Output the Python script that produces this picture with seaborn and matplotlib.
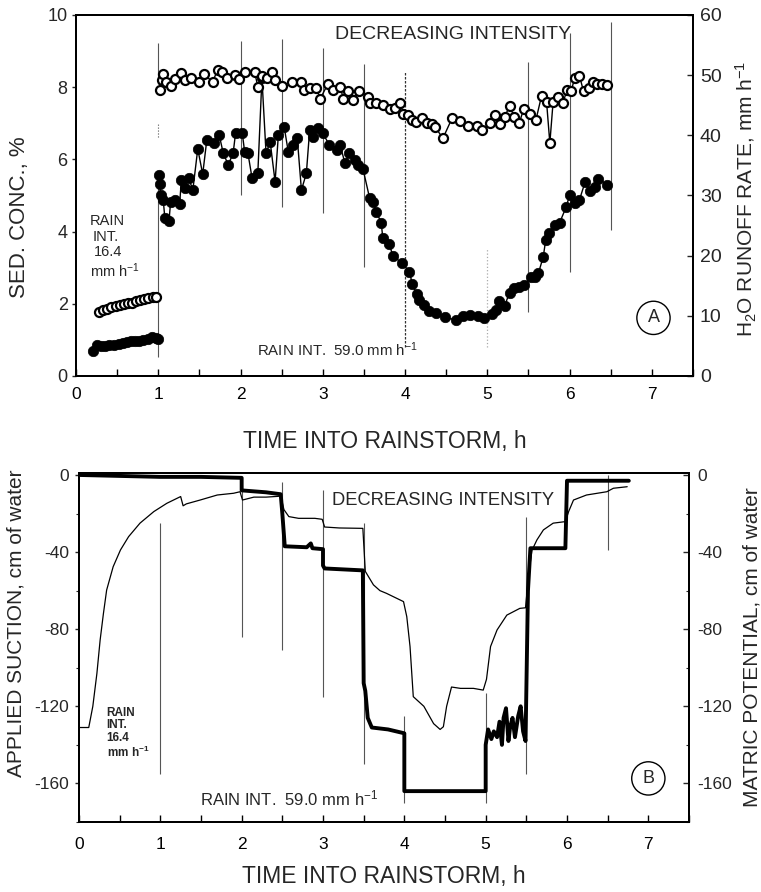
import numpy as np
import pandas as pd
import matplotlib
matplotlib.use("Agg")
import matplotlib.pyplot as plt
from matplotlib.ticker import MultipleLocator
import seaborn as sns

sns.set_style("ticks")
plt.rcParams['font.family'] = ['Liberation Sans', 'DejaVu Sans']
plt.rcParams['mathtext.fontset'] = 'custom'
plt.rcParams['mathtext.rm'] = 'Liberation Sans'
plt.rcParams['mathtext.it'] = 'Liberation Sans:italic'
plt.rcParams['mathtext.bf'] = 'Liberation Sans:bold'
plt.rcParams['mathtext.default'] = 'regular'
plt.rcParams['axes.unicode_minus'] = False

# ---------------- Panel A data ----------------
# sediment concentration (%), low-intensity period
sed_early_t = [0.21, 0.26, 0.30, 0.35, 0.40, 0.46, 0.52, 0.57, 0.62, 0.67, 0.72, 0.77, 0.82, 0.87, 0.92, 0.97, 1.00]
sed_early = [0.70, 0.85, 0.82, 0.84, 0.85, 0.86, 0.88, 0.92, 0.95, 0.96, 0.97, 0.98, 1.00, 1.02, 1.08, 1.05, 1.02]
# sediment concentration (%), high-intensity period
sed_t = [1.01, 1.02, 1.03, 1.06, 1.08, 1.13, 1.15, 1.20, 1.26, 1.28, 1.32, 1.37, 1.42, 1.48, 1.54, 1.59,
         1.68, 1.74, 1.79, 1.85, 1.91, 1.94, 2.02, 2.05, 2.09, 2.14, 2.21, 2.26, 2.31, 2.36, 2.42, 2.46,
         2.53, 2.58, 2.64, 2.69, 2.74, 2.80, 2.84, 2.88, 2.94, 3.00, 3.08, 3.17, 3.21, 3.27, 3.32, 3.39,
         3.43, 3.49, 3.57, 3.61, 3.65, 3.71, 3.73, 3.81, 3.85, 3.96, 4.05, 4.09, 4.14, 4.17, 4.23, 4.29,
         4.38, 4.49, 4.62, 4.70, 4.79, 4.89, 4.96, 5.06, 5.10, 5.14, 5.21, 5.27, 5.32, 5.39, 5.45, 5.53,
         5.58, 5.62, 5.68, 5.71, 5.75, 5.82, 5.88, 5.96, 6.00, 6.06, 6.12, 6.19, 6.25, 6.31, 6.35, 6.46]
sed = [5.57, 5.31, 5.01, 4.88, 4.37, 4.28, 4.83, 4.88, 4.76, 5.43, 5.20, 5.48, 5.15, 6.29, 5.59, 6.54,
       6.46, 6.68, 6.17, 5.85, 6.17, 6.74, 6.74, 6.21, 6.17, 5.48, 5.61, 8.25, 6.17, 6.49, 5.38, 6.68,
       6.91, 6.21, 6.40, 6.58, 5.15, 5.61, 6.81, 6.63, 6.86, 6.72, 6.40, 6.26, 6.40, 5.89, 6.17, 5.98,
       5.84, 5.72, 4.92, 4.83, 4.55, 4.25, 3.81, 3.66, 3.32, 3.14, 2.89, 2.55, 2.27, 2.11, 1.97, 1.81,
       1.74, 1.62, 1.55, 1.66, 1.69, 1.66, 1.60, 1.71, 1.83, 2.09, 1.94, 2.31, 2.43, 2.47, 2.52, 2.75,
       2.75, 2.84, 3.30, 3.77, 3.95, 4.18, 4.25, 4.69, 5.01, 4.78, 4.88, 5.38, 5.13, 5.24, 5.47, 5.29]
# runoff rate (mm/h), low-intensity period
run_early_t = [0.28, 0.33, 0.38, 0.43, 0.48, 0.53, 0.58, 0.63, 0.68, 0.73, 0.78, 0.83, 0.88, 0.93, 0.97]
run_early = [10.7, 11.0, 11.2, 11.4, 11.6, 11.8, 11.9, 12.1, 12.2, 12.4, 12.6, 12.8, 12.9, 13.1, 13.1]
# runoff rate (mm/h), high-intensity period
run_t = [1.02, 1.04, 1.06, 1.09, 1.16, 1.20, 1.28, 1.32, 1.40, 1.49, 1.55, 1.66, 1.72, 1.77, 1.83, 1.93,
         1.98, 2.06, 2.17, 2.21, 2.26, 2.32, 2.38, 2.42, 2.51, 2.62, 2.74, 2.77, 2.84, 2.92, 2.97, 3.06,
         3.13, 3.21, 3.25, 3.31, 3.37, 3.44, 3.55, 3.57, 3.65, 3.73, 3.82, 3.88, 3.94, 3.98, 4.04, 4.08,
         4.13, 4.20, 4.27, 4.33, 4.37, 4.46, 4.57, 4.67, 4.77, 4.87, 4.94, 5.03, 5.09, 5.15, 5.21, 5.27,
         5.33, 5.39, 5.44, 5.52, 5.59, 5.66, 5.72, 5.76, 5.80, 5.86, 5.92, 5.97, 6.02, 6.06, 6.12, 6.17,
         6.24, 6.28, 6.33, 6.39, 6.45]
run = [47.6, 49.2, 50.2, 48.9, 48.2, 49.3, 50.4, 49.2, 49.5, 48.9, 50.2, 48.9, 50.8, 50.6, 49.5, 50.0,
       49.3, 50.6, 50.6, 48.1, 49.9, 49.5, 50.6, 49.2, 48.2, 48.9, 48.9, 47.5, 47.8, 47.8, 46.1, 48.5,
       47.5, 48.1, 46.1, 47.4, 45.9, 47.4, 46.3, 45.4, 45.4, 45.1, 44.3, 44.6, 45.4, 43.6, 43.4, 42.5,
       42.2, 42.8, 42.1, 41.9, 41.3, 39.5, 42.8, 42.4, 41.6, 41.6, 40.9, 42.1, 43.4, 41.9, 43.1, 44.8,
       43.1, 42.1, 44.3, 43.6, 42.5, 46.6, 45.6, 38.7, 45.6, 46.3, 45.4, 47.6, 47.3, 49.5, 49.9, 47.3,
       47.8, 48.9, 48.6, 48.5, 48.4]
# marker lines in panel A (left-axis units)
vl_a_x = [2.0, 2.5, 3.0, 3.5, 5.5, 6.0, 6.5]
vl_a_lo = [5.01, 4.68, 4.52, 3.02, 1.77, 2.88, 4.04]
vl_a_hi = [9.28, 9.33, 9.09, 8.64, 8.70, 9.50, 9.80]

# ---------------- Panel B data ----------------
suction_t = [0.0, 0.5, 1.0, 1.5, 2.0, 2.0, 2.3, 2.48, 2.50, 2.53, 2.80, 2.85, 2.87, 3.0, 3.0, 3.02,
             3.49, 3.50, 3.52, 3.55, 3.60, 3.80, 4.0, 4.0, 5.0, 5.0, 5.03, 5.07, 5.10, 5.14, 5.17, 5.20,
             5.22, 5.25, 5.28, 5.30, 5.33, 5.36, 5.40, 5.43, 5.46, 5.49, 5.52, 5.55, 5.98, 6.0, 6.76]
suction = [0.0, -0.5, -1.0, -1.0, -1.5, -8.0, -9.0, -10.0, -20.0, -37.0, -37.5, -35.5, -38.0, -38.5, -47.0, -48.5,
           -49.5, -108.0, -112.0, -126.0, -131.0, -132.0, -134.0, -164.0, -164.0, -140.0, -132.0, -137.0, -133.0, -136.0, -128.0, -140.0,
           -126.0, -121.0, -138.0, -131.0, -126.0, -136.0, -125.0, -120.0, -133.0, -138.0, -60.0, -38.0, -38.0, -3.0, -3.0]
mp_t = [0.0, 0.12, 0.17, 0.22, 0.26, 0.30, 0.34, 0.42, 0.51, 0.61, 0.75, 0.92, 1.08, 1.25, 1.28, 1.32,
        1.49, 1.70, 1.90, 1.98, 2.01, 2.15, 2.30, 2.48, 2.52, 2.58, 2.70, 2.90, 2.99, 3.02, 3.20, 3.49,
        3.52, 3.62, 3.70, 3.78, 3.99, 4.03, 4.07, 4.11, 4.24, 4.36, 4.44, 4.48, 4.52, 4.58, 4.69, 4.85,
        4.97, 5.01, 5.06, 5.14, 5.26, 5.42, 5.49, 5.53, 5.57, 5.63, 5.71, 5.83, 5.98, 6.02, 6.08, 6.24,
        6.49, 6.57, 6.74]
mp = [-131.0, -131.0, -120.0, -103.0, -85.6, -72.0, -59.7, -47.6, -38.9, -32.0, -25.0, -19.0, -14.7, -11.2, -16.0, -15.0,
      -13.0, -10.4, -9.5, -8.7, -13.0, -11.5, -11.5, -11.0, -18.0, -21.6, -22.5, -22.5, -23.0, -27.0, -27.5, -27.7,
      -50.0, -57.0, -60.0, -61.4, -65.7, -73.5, -89.0, -115.0, -120.0, -129.0, -132.0, -130.6, -120.0, -110.0, -110.7, -110.7,
      -111.6, -106.0, -89.0, -80.4, -72.7, -69.2, -68.9, -51.0, -39.0, -33.7, -28.5, -25.0, -24.2, -19.0, -13.0, -10.4,
      -8.7, -6.9, -6.1]
vl_b_x = [1.0, 2.0, 2.5, 3.0, 3.5, 5.5, 6.5]
vl_b_lo = [-155, -84, -91, -115, -150, -155, -39]
vl_b_hi = [-25, -5, -3.5, -8, -25, -21.6, 0]

xticks = [0, 1, 2, 3, 4, 5, 6, 7]

# ---------------- Figure ----------------
fig = plt.figure(figsize=(7.61, 8.92), dpi=100)
ax1 = fig.add_axes([0.0999, 0.5785, 0.8107, 0.4047])
ax1r = ax1.twinx()
ax2 = fig.add_axes([0.1038, 0.0785, 0.8016, 0.3912])
ax2r = ax2.twinx()

vcol = '#555555'
# ---- Panel A ----
ax1.vlines(vl_a_x, vl_a_lo, vl_a_hi, color=vcol, lw=0.8, zorder=1)
ax1.vlines([1.0, 1.0], [0.53, 8.1], [5.6, 9.22], color=vcol, lw=0.8, zorder=1)
ax1.vlines([1.0], [6.63], [7.0], color=vcol, lw=0.8, linestyles=':', zorder=1)
ax1.vlines([4.0], [0.8], [8.45], color='#333333', lw=0.9, linestyles=(0, (2, 1.2)), zorder=1)
ax1.vlines([5.0], [0.8], [3.55], color='#aaaaaa', lw=0.9, linestyles=':', zorder=1)

filled_kw = dict(color='black', lw=1.0, marker='o', markersize=7.5,
                 markerfacecolor='black', markeredgecolor='black', markeredgewidth=0.5)
open_kw = dict(color='black', lw=1.0, marker='o', markersize=6.5,
               markerfacecolor='white', markeredgecolor='black', markeredgewidth=1.6)

sns.lineplot(x=sed_early_t, y=sed_early, ax=ax1, estimator=None, sort=False, **filled_kw)
sns.lineplot(x=sed_t, y=sed, ax=ax1, estimator=None, sort=False, **filled_kw)
sns.lineplot(x=run_early_t, y=run_early, ax=ax1r, estimator=None, sort=False, **open_kw)
sns.lineplot(x=run_t, y=run, ax=ax1r, estimator=None, sort=False, **open_kw)

ax1.set_xlim(0, 7.5)
ax1.set_ylim(0, 10)
ax1r.set_ylim(0, 60)
ax1.set_xticks(xticks)
ax1.xaxis.set_minor_locator(MultipleLocator(0.5))
ax1.set_yticks([0, 2, 4, 6, 8, 10])
ax1r.set_yticks([0, 10, 20, 30, 40, 50, 60])

ax1.text(3.15, 9.45, 'DECREASING INTENSITY', fontsize=14, ha='left', va='center')
ax1.text(2.2, 0.72, 'RAIN INT.  59.0 mm h$^{-1}$', fontsize=10.8, ha='left', va='center')
ax1.text(0.17, 4.30, 'RAIN', fontsize=10.5, ha='left', va='center')
ax1.text(0.20, 3.85, 'INT.', fontsize=10.5, ha='left', va='center')
ax1.text(0.22, 3.43, '16.4', fontsize=10.5, ha='left', va='center')
ax1.text(0.17, 2.92, 'mm h$^{-1}$', fontsize=10.5, ha='left', va='center')
ax1.text(7.02, 1.61, 'A', fontsize=13, ha='center', va='center',
         bbox=dict(boxstyle='circle,pad=0.45', fc='white', ec='black', lw=1.0))

ax1.set_xlabel('TIME INTO RAINSTORM, h', fontsize=16.5)
ax1.set_ylabel('SED. CONC., %', fontsize=16)
ax1r.set_ylabel('H$_2$O RUNOFF RATE, mm h$^{-1}$', fontsize=15)
ax1.xaxis.set_label_coords(0.5, -0.15)
ax1.yaxis.set_label_coords(-0.075, 0.44)
ax1r.yaxis.set_label_coords(1.066, 0.49)

# ---- Panel B ----
ax2.vlines(vl_b_x, vl_b_lo, vl_b_hi, color=vcol, lw=0.8, zorder=1)
ax2.vlines([4.0, 5.0], [-170, -170], [-125, -113], color=vcol, lw=0.8, zorder=1)

sns.lineplot(x=suction_t, y=suction, ax=ax2, estimator=None, sort=False, color='black', lw=2.8)
sns.lineplot(x=mp_t, y=mp, ax=ax2r, estimator=None, sort=False, color='black', lw=0.9)

ax2.set_xlim(0, 7.5)
ax2.set_ylim(-180, 1)
ax2r.set_ylim(-180, 1)
ax2.set_xticks(xticks)
ax2.xaxis.set_minor_locator(MultipleLocator(0.5))
ax2.set_yticks([0, -40, -80, -120, -160])
ax2.yaxis.set_minor_locator(MultipleLocator(20))
ax2r.set_yticks([0, -40, -80, -120, -160])
ax2r.yaxis.set_minor_locator(MultipleLocator(20))

ax2.text(3.11, -13, 'DECREASING INTENSITY', fontsize=13.2, ha='left', va='center')
ax2.text(1.49, -168, 'RAIN INT.  59.0 mm h$^{-1}$', fontsize=12, ha='left', va='center')
ax2.text(0.34, -134, 'RAIN\nINT.\n16.4\nmm h$^{-1}$', fontsize=8.5, fontweight='bold',
         ha='left', va='center', linespacing=1.05)
ax2.text(7.0, -157.4, 'B', fontsize=13, ha='center', va='center',
         bbox=dict(boxstyle='circle,pad=0.45', fc='white', ec='black', lw=1.0))

ax2.set_xlabel('TIME INTO RAINSTORM, h', fontsize=16.5)
ax2.set_ylabel('APPLIED SUCTION, cm of water', fontsize=15)
ax2r.set_ylabel('MATRIC POTENTIAL, cm of water', fontsize=15)
ax2.xaxis.set_label_coords(0.5, -0.123)
ax2.yaxis.set_label_coords(-0.087, 0.57)
ax2r.yaxis.set_label_coords(1.087, 0.50)

# ---- tick styling ----
for ax in (ax1, ax2):
    ax.tick_params(axis='x', which='both', direction='in', length=5, width=1.0, labelsize=12.5, colors='black')
    ax.tick_params(axis='y', which='major', direction='out', length=3, width=1.0, pad=3, labelsize=13)
    ax.tick_params(axis='y', which='minor', direction='out', length=2, width=0.8)
ax1.tick_params(axis='x', pad=8)
ax2.tick_params(axis='x', pad=11)
ax2.tick_params(axis='y', labelsize=12.5, pad=4)
ax1r.tick_params(axis='y', direction='in', length=4, width=1.0, pad=5, labelsize=14)
ax2r.tick_params(axis='y', which='major', direction='in', length=4, width=1.0, pad=6, labelsize=12.5)
ax2r.tick_params(axis='y', which='minor', direction='in', length=2, width=0.8)

for ax in (ax1, ax1r, ax2, ax2r):
    for s in ax.spines.values():
        s.set_visible(True)
        s.set_linewidth(1.4)
        s.set_color('black')

fig.savefig('out.png', dpi=100)
